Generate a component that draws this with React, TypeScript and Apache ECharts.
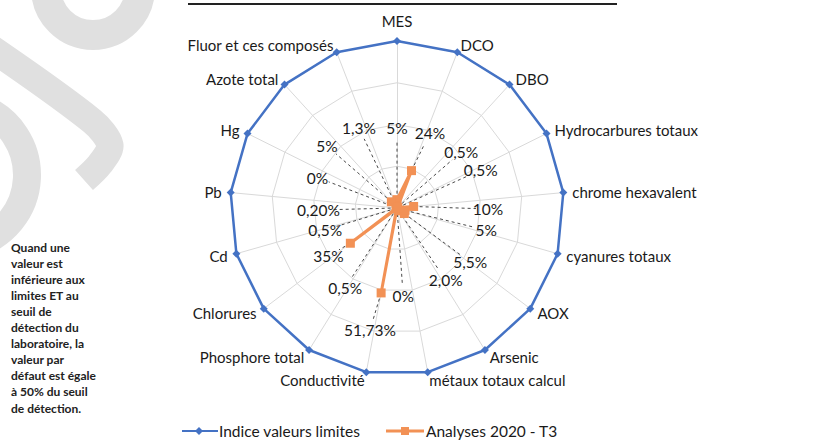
import React, { useEffect, useRef } from 'react';
import * as echarts from 'echarts';

// ---------- data ----------
const indicators = [
  'MES', 'DCO', 'DBO', 'Hydrocarbures totaux', 'chrome hexavalent', 'cyanures totaux',
  'AOX', 'Arsenic', 'métaux totaux calcul', 'Conductivité', 'Phosphore total',
  'Chlorures', 'Cd', 'Pb', 'Hg', 'Azote total', 'Fluor et ces composés',
];
const limitValues = [1, 1, 1, 1, 1, 1, 1, 1, 1, 1, 1, 1, 1, 1, 1, 1, 1];
const analysesValues = [
  0.05, 0.24, 0.005, 0.005, 0.10, 0.05, 0.055, 0.02, 0, 0.5173, 0.005, 0.35, 0.005, 0.002, 0, 0.05, 0.013,
];
const analysesLabels = [
  '5%', '24%', '0,5%', '0,5%', '10%', '5%', '5,5%', '2,0%', '0%', '51,73%', '0,5%', '35%', '0,5%', '0,20%', '0%', '5%', '1,3%',
];
const seriesNames = ['Indice valeurs limites', 'Analyses 2020 - T3'];
const noteLines = [
  'Quand une', 'valeur est', 'inférieure aux', 'limites ET au', 'seuil de', 'détection du',
  'laboratoire, la', 'valeur par', 'défaut est égale', 'à 50% du seuil', 'de détection.',
];

// ---------- layout (not data) ----------
const CX = 397;
const CY = 208;
const R = 167;
const N = indicators.length;
// polar [radius fraction, angle index] of each value label
const labelPos = [
  [0.48, 0], [0.49, 1.12], [0.51, 2.31], [0.55, 3.1], [0.545, 4.28], [0.55, 4.91],
  [0.545, 5.97], [0.52, 6.89], [0.53, 8.31], [0.75, 9.09], [0.57, 10.06], [0.5, 11.1],
  [0.45, 11.95], [0.47, 12.68], [0.51, 13.74], [0.56, 14.71], [0.53, 15.8],
];
const BLUE = '#4472C4';
const ORANGE = '#F29155';
const FONT = 'Lato, "Noto Sans", sans-serif';
const TEXT = '#1a1a1a';

// radar places indicators counter-clockwise; reverse to get clockwise order
const order = indicators.map((_, k) => (N - k) % N);

export default function App() {
  const ref = useRef<HTMLDivElement>(null);
  useEffect(() => {
    if (!ref.current) return;
    const chart = echarts.init(ref.current, undefined, { renderer: 'svg' });

    const option: any = {
      animation: false,
      backgroundColor: '#ffffff',
      textStyle: { fontFamily: FONT },
      polar: { center: [CX, CY], radius: R },
      angleAxis: { type: 'value', min: 0, max: N, startAngle: 90, clockwise: true, show: false },
      radiusAxis: { type: 'value', min: 0, max: 1, show: false },
      radar: {
        center: [CX, CY],
        radius: R,
        startAngle: 90,
        shape: 'polygon',
        splitNumber: 4,
        indicator: order.map((i) => ({ name: indicators[i], min: 0, max: 1 })),
        axisName: { show: false },
        axisLine: { lineStyle: { color: '#d9d9d9', width: 1 } },
        splitLine: { lineStyle: { color: '#d9d9d9', width: 1 } },
        splitArea: { show: false },
        axisTick: { show: false },
        axisLabel: { show: false },
      },
      series: [
        {
          type: 'custom',
          coordinateSystem: 'polar',
          silent: true,
          clip: false,
          z: 2,
          data: analysesValues.map((v, i) => [v, i, labelPos[i][0], labelPos[i][1]]),
          renderItem: (params: any, api: any) => {
            const p = api.coord([api.value(0), api.value(1)]);
            const q = api.coord([api.value(2), api.value(3)]);
            const dx = q[0] - p[0];
            const dy = q[1] - p[1];
            const d = Math.sqrt(dx * dx + dy * dy);
            if (d < 20) return null;
            const e = (d - 12) / d;
            return {
              type: 'line',
              shape: { x1: p[0], y1: p[1], x2: p[0] + dx * e, y2: p[1] + dy * e },
              style: { stroke: '#333', lineWidth: 0.9, lineDash: [3, 3] },
            };
          },
        },
        {
          type: 'radar',
          z: 3,
          data: [
            {
              name: seriesNames[0],
              value: order.map((i) => limitValues[i]),
              symbol: 'diamond',
              symbolSize: 8,
              lineStyle: { color: BLUE, width: 2.5 },
              itemStyle: { color: BLUE },
            },
            {
              name: seriesNames[1],
              value: order.map((i) => analysesValues[i]),
              symbol: 'rect',
              symbolSize: 9,
              lineStyle: { color: ORANGE, width: 3 },
              itemStyle: { color: ORANGE },
            },
          ],
        },
        {
          type: 'custom',
          coordinateSystem: 'polar',
          silent: true,
          clip: false,
          z: 4,
          data: indicators.map((_, i) => [limitValues[i], i]),
          renderItem: (params: any, api: any) => {
            const i = params.dataIndex;
            const p = api.coord([api.value(0), api.value(1)]);
            const th = (i * 2 * Math.PI) / N;
            const s = Math.sin(th);
            const c = Math.cos(th);
            const align = Math.abs(s) < 0.1 ? 'center' : s > 0 ? 'left' : 'right';
            return {
              type: 'text',
              x: p[0] + 9 * s,
              y: p[1] - 8 * c - (Math.abs(s) < 0.1 ? 12 : 0),
              style: {
                text: indicators[i],
                align,
                verticalAlign: 'middle',
                fill: TEXT,
                font: `15px ${FONT}`,
              },
            };
          },
        },
        {
          type: 'custom',
          coordinateSystem: 'polar',
          silent: true,
          clip: false,
          z: 5,
          data: analysesLabels.map((_, i) => [labelPos[i][0], labelPos[i][1]]),
          renderItem: (params: any, api: any) => {
            const i = params.dataIndex;
            const p = api.coord([api.value(0), api.value(1)]);
            return {
              type: 'text',
              x: p[0],
              y: p[1],
              style: {
                text: analysesLabels[i],
                align: 'center',
                verticalAlign: 'middle',
                fill: TEXT,
                font: `15.5px ${FONT}`,
              },
            };
          },
        },
      ],
      graphic: [
        // watermark fragments
        {
          type: 'arc', z: -10, silent: true,
          shape: { cx: 93, cy: -12, r: 47, startAngle: 0, endAngle: Math.PI },
          style: { stroke: '#e0e0e0', lineWidth: 30, fill: 'none' },
        },
        {
          type: 'polyline', z: -10, silent: true,
          shape: { points: [[-12, 46], [92, 121], [110, 145], [100, 164], [84, 180]], smooth: 0.3 },
          style: { stroke: '#e0e0e0', lineWidth: 27, fill: 'none' },
        },
        {
          type: 'arc', z: -10, silent: true,
          shape: { cx: -45, cy: 175, r: 72, startAngle: -Math.PI / 2.6, endAngle: Math.PI / 2.4 },
          style: { stroke: '#e0e0e0', lineWidth: 28, fill: 'none' },
        },
        // title underline
        {
          type: 'line', silent: true,
          shape: { x1: 188, y1: 4, x2: 617, y2: 4 },
          style: { stroke: '#222', lineWidth: 2 },
        },
        // note
        {
          type: 'text', silent: true, x: 11, y: 239,
          style: {
            text: noteLines.join('\n'),
            font: `bold 12px ${FONT}`,
            lineHeight: 16.1,
            fill: '#222',
          },
        },
        // legend
        {
          type: 'line', silent: true,
          shape: { x1: 182, y1: 431, x2: 218, y2: 431 },
          style: { stroke: BLUE, lineWidth: 2 },
        },
        {
          type: 'polygon', silent: true,
          shape: { points: [[199, 427], [203, 431], [199, 435], [195, 431]] },
          style: { fill: BLUE },
        },
        {
          type: 'text', silent: true, x: 219, y: 431,
          style: { text: seriesNames[0], verticalAlign: 'middle', font: `15.5px ${FONT}`, fill: TEXT },
        },
        {
          type: 'line', silent: true,
          shape: { x1: 386, y1: 431, x2: 424, y2: 431 },
          style: { stroke: ORANGE, lineWidth: 3 },
        },
        {
          type: 'rect', silent: true,
          shape: { x: 401, y: 427, width: 8, height: 8 },
          style: { fill: ORANGE },
        },
        {
          type: 'text', silent: true, x: 426, y: 431,
          style: { text: seriesNames[1], verticalAlign: 'middle', font: `15.5px ${FONT}`, fill: TEXT },
        },
      ],
    };
    chart.setOption(option);
    return () => chart.dispose();
  }, []);
  return (
    <div
      ref={ref}
      style={{ position: 'absolute', left: 0, top: 0, width: 814, height: 448, background: '#fff' }}
    />
  );
}
